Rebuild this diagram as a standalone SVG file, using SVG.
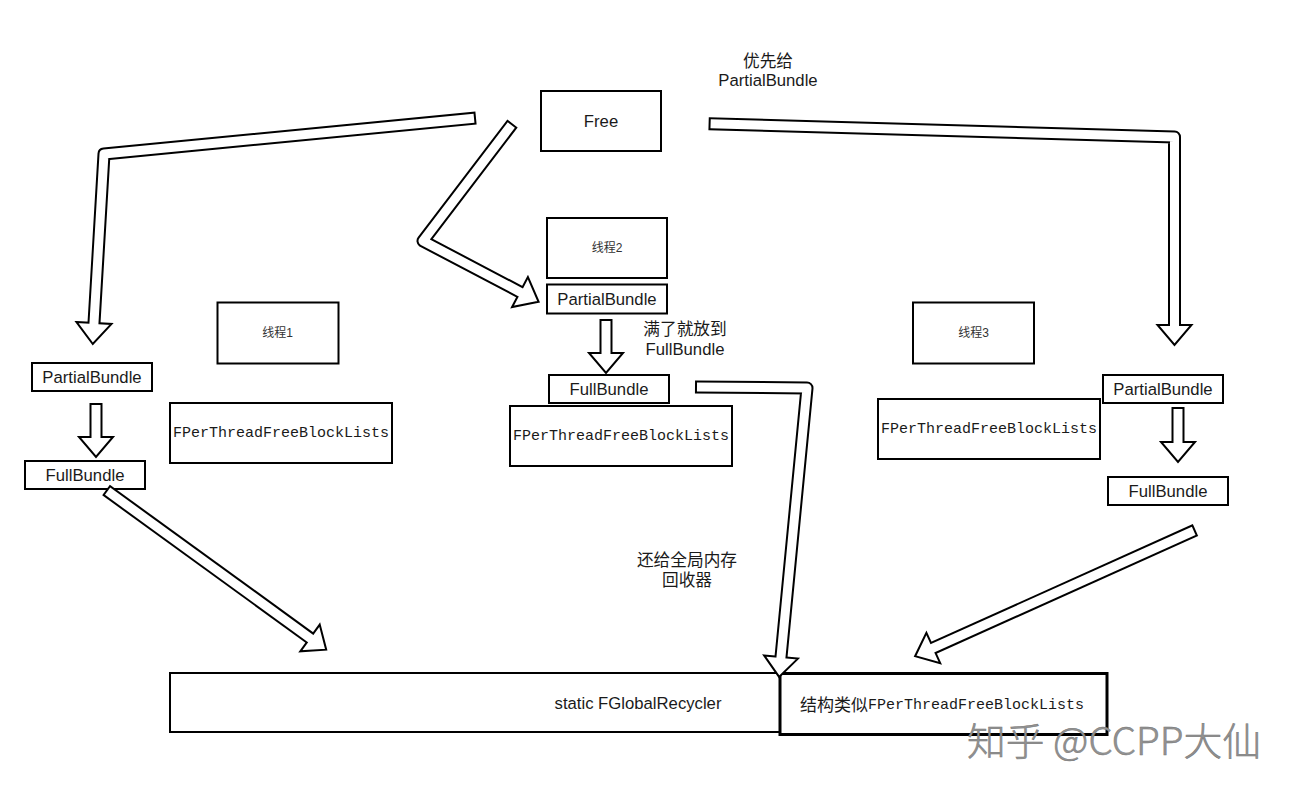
<svg xmlns="http://www.w3.org/2000/svg" width="1296" height="794" viewBox="0 0 1296 794">
<style>
  .box { fill: #fff; stroke: #000; stroke-width: 2; }
  .box3 { fill: #fff; stroke: #000; stroke-width: 3; }
  .t { font-family: "Liberation Sans", "Noto Sans CJK SC", sans-serif; font-size: 16.7px; fill: #1a1a1a; text-anchor: middle; dominant-baseline: central; }
  .ts { font-family: "Liberation Sans", "Noto Sans CJK SC", sans-serif; font-size: 12px; fill: #333; text-anchor: middle; dominant-baseline: central; }
  .tm { font-family: "Liberation Mono", "DejaVu Sans Mono", monospace; font-size: 15px; fill: #1a1a1a; text-anchor: middle; dominant-baseline: central; }
  .o { fill: none; stroke: #000; stroke-width: 13; stroke-linejoin: round; stroke-linecap: butt; }
  .i { fill: none; stroke: #fff; stroke-width: 9; stroke-linejoin: round; stroke-linecap: butt; }
  .hd { fill: #fff; stroke: #000; stroke-width: 2; stroke-linejoin: miter; }
  .wm { font-family: "Noto Sans CJK SC", "Liberation Sans", sans-serif; font-size: 38px; font-weight: 300; fill: #929292; stroke: #777; stroke-width: 0.5; }
</style>
<rect width="1296" height="794" fill="#fff"/>

<g id="nodes">
  <g id="free"><rect class="box" x="541" y="91" width="120" height="60"/><text class="t" x="601" y="121">Free</text></g>
  <g id="thread1"><rect class="box" x="217.5" y="302.5" width="121" height="61"/><text class="ts" x="277.5" y="333">线程1</text></g>
  <g id="thread2"><rect class="box" x="547" y="218" width="120" height="60"/><text class="ts" x="607" y="248">线程2</text></g>
  <g id="thread3"><rect class="box" x="913" y="302.5" width="121" height="61"/><text class="ts" x="973.5" y="333">线程3</text></g>
  <g id="pb1"><rect class="box" x="32" y="363" width="120" height="28"/><text class="t" x="92" y="377">PartialBundle</text></g>
  <g id="fb1"><rect class="box" x="25" y="461" width="120" height="28"/><text class="t" x="85" y="475">FullBundle</text></g>
  <g id="fpt1"><rect class="box" x="170" y="403" width="222" height="60"/><text class="tm" x="281" y="433">FPerThreadFreeBlockLists</text></g>
  <g id="pb2"><rect class="box" x="547" y="284.5" width="120" height="29"/><text class="t" x="607" y="299">PartialBundle</text></g>
  <g id="fb2"><rect class="box" x="549" y="375" width="120" height="28"/><text class="t" x="609" y="389">FullBundle</text></g>
  <g id="fpt2"><rect class="box" x="510" y="406" width="222" height="60"/><text class="tm" x="621" y="436">FPerThreadFreeBlockLists</text></g>
  <g id="pb3"><rect class="box" x="1103" y="375" width="120" height="28"/><text class="t" x="1163" y="389">PartialBundle</text></g>
  <g id="fb3"><rect class="box" x="1108" y="477" width="120" height="28"/><text class="t" x="1168" y="491">FullBundle</text></g>
  <g id="fpt3"><rect class="box" x="878" y="399" width="222" height="60"/><text class="tm" x="989" y="429">FPerThreadFreeBlockLists</text></g>
  <g id="recycler"><rect class="box" x="170" y="673" width="610" height="59"/><text class="t" x="638" y="703">static FGlobalRecycler</text></g>
  <g id="recycler-struct"><rect class="box3" x="780" y="673.5" width="327" height="61"/>
    <text x="800" y="705" style="font-family:'Liberation Sans','Noto Sans CJK SC',sans-serif;font-size:17px;fill:#1a1a1a;dominant-baseline:central">结构类似<tspan style="font-family:'Liberation Mono','DejaVu Sans Mono',monospace;font-size:15px">FPerThreadFreeBlockLists</tspan></text>
  </g>
</g>

<g id="connectors">
  <g id="c-free-pb1">
    <path class="o" d="M476,118 L104,154 L94,323"/>
    <polygon class="hd" points="76.5,322 111.5,324 92.8,344"/>
    <path class="i" d="M474,118.2 L104,154 L93.8,326"/>
  </g>
  <g id="c-free-pb2">
    <path class="o" d="M512.5,123.5 L423,241 L520,292"/>
    <polygon class="hd" points="512.1,307 527.9,277 538.6,301.8"/>
    <path class="i" d="M511.3,125.1 L423,241 L522.7,293.4"/>
  </g>
  <g id="c-free-pb3">
    <path class="o" d="M708.6,123.8 L1174.5,137 L1174.5,325"/>
    <polygon class="hd" points="1157.5,325 1191.5,325 1174.5,345"/>
    <path class="i" d="M710.6,123.86 L1174.5,137 L1174.5,328"/>
  </g>
  <g id="c-pb1-fb1">
    <path class="o" d="M96,403 L96,437"/>
    <polygon class="hd" points="79,437 113,437 96,457"/>
    <path class="i" d="M96,405 L96,440"/>
  </g>
  <g id="c-pb2-fb2">
    <path class="o" d="M606,319 L606,353"/>
    <polygon class="hd" points="589,353 623,353 606,373"/>
    <path class="i" d="M606,321 L606,356"/>
  </g>
  <g id="c-pb3-fb3">
    <path class="o" d="M1178,407 L1178,442"/>
    <polygon class="hd" points="1161,442 1195,442 1178,462"/>
    <path class="i" d="M1178,409 L1178,445"/>
  </g>
  <g id="c-fb1-recycler">
    <path class="o" d="M106,490 L310,638"/>
    <polygon class="hd" points="319.7,624.6 300.3,651.3 326.2,649.7"/>
    <path class="i" d="M107.6,491.2 L312.4,639.8"/>
  </g>
  <g id="c-fb2-recycler">
    <path class="o" d="M695,387 L807,388 L781,657"/>
    <polygon class="hd" points="764.1,655.4 797.9,658.6 779.1,676.9"/>
    <path class="i" d="M697,387 L807,388 L780.7,660"/>
  </g>
  <g id="c-fb3-recycler">
    <path class="o" d="M1195.5,530 L933.3,648"/>
    <polygon class="hd" points="940.2,663.2 926.4,632.8 915.1,656.2"/>
    <path class="i" d="M1193.7,530.8 L930.6,649.2"/>
  </g>
</g>

<g id="labels">
  <text class="t" x="768" y="61">优先给</text>
  <text class="t" x="768" y="80">PartialBundle</text>
  <text class="t" x="685" y="329">满了就放到</text>
  <text class="t" x="685" y="349">FullBundle</text>
  <text class="t" x="687" y="560">还给全局内存</text>
  <text class="t" x="687" y="580">回收器</text>
</g>

<text class="wm" x="967" y="755" textLength="294" lengthAdjust="spacingAndGlyphs">知乎 @CCPP大仙</text>
</svg>
